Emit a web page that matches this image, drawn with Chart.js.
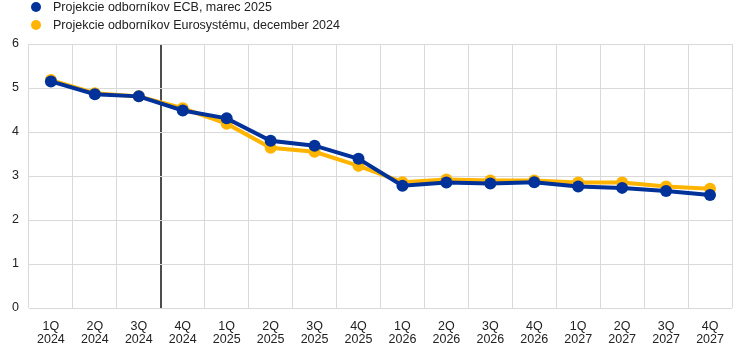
<!DOCTYPE html>
<html>
<head>
<meta charset="utf-8">
<script src="https://cdn.jsdelivr.net/npm/chart.js@4"></script>
<style>
    body { margin: 0; background: #fff; }
    #wrap { position: relative; width: 744px; height: 348px; }
    #legend { position: absolute; left: 31px; top: 0; font: 12.5px "Liberation Sans", Arial, sans-serif; color: #222; }
    #legend div { height: 18px; line-height: 15px; white-space: nowrap; }
    #legend span { display: inline-block; width: 10px; height: 10px; border-radius: 50%; margin-right: 12px; vertical-align: -1px; }
</style>
</head>
<body>
<div id="wrap">
    <canvas id="chart1" width="744" height="348"></canvas>
    <div id="legend"></div>
</div>
<script>
const quarters = ['1Q', '2Q', '3Q', '4Q', '1Q', '2Q', '3Q', '4Q', '1Q', '2Q', '3Q', '4Q', '1Q', '2Q', '3Q', '4Q'];
const years = ['2024', '2024', '2024', '2024', '2025', '2025', '2025', '2025', '2026', '2026', '2026', '2026', '2027', '2027', '2027', '2027'];

const ecbMarch2025 = [5.15, 4.86, 4.81, 4.49, 4.31, 3.80, 3.69, 3.39, 2.78, 2.85, 2.83, 2.86, 2.76, 2.73, 2.66, 2.57];
const eurosystemDec2024 = [5.18, 4.88, 4.81, 4.54, 4.19, 3.64, 3.55, 3.23, 2.86, 2.92, 2.90, 2.90, 2.85, 2.85, 2.76, 2.71];

const seriesNames = ['Projekcie odborníkov ECB, marec 2025', 'Projekcie odborníkov Eurosystému, december 2024'];
const seriesColors = ['#003299', '#ffb400'];

const yTicks = [0, 1, 2, 3, 4, 5, 6];

const labels = quarters.map((q, i) => [q, years[i]]);

document.getElementById('legend').innerHTML = seriesNames.map((name, i) =>
    `<div><span style="background:${seriesColors[i]}"></span>${name}</div>`
).join('');

const ctx1 = document.getElementById('chart1');

new Chart(ctx1, {
    type: 'line',
    data: {
        labels: labels,
        datasets: [{
            label: seriesNames[0],
            data: ecbMarch2025,
            borderColor: seriesColors[0],
            backgroundColor: seriesColors[0],
            borderWidth: 4,
            pointRadius: 6,
            pointBorderWidth: 0,
            tension: 0,
        }, {
            label: seriesNames[1],
            data: eurosystemDec2024,
            borderColor: seriesColors[1],
            backgroundColor: seriesColors[1],
            borderWidth: 4,
            pointRadius: 6,
            pointBorderWidth: 0,
            tension: 0,
        }],
    },
    options: {
        responsive: false,
        animation: false,
        events: [],
        layout: {
            padding: { top: 44, right: 12, left: 2, bottom: 0 },
        },
        plugins: {
            legend: { display: false },
            tooltip: { enabled: false },
        },
        scales: {
            x: {
                offset: true,
                afterFit: (scale) => { scale.height = 40; },
                grid: {
                    offset: true,
                    drawTicks: false,
                    color: (c) => c.index === 3 ? '#4d4d4d' : '#d9d9d9',
                    lineWidth: (c) => c.index === 3 ? 2 : 1,
                },
                border: { display: false },
                ticks: {
                    padding: 12,
                    color: '#222',
                    maxRotation: 0,
                    autoSkip: false,
                    font: { family: '"Liberation Sans", Arial, sans-serif', size: 12.5, lineHeight: 1.06 },
                },
            },
            y: {
                min: 0,
                max: 6,
                afterBuildTicks: (scale) => { scale.ticks = yTicks.map(v => ({ value: v })); },
                grid: { drawTicks: false, color: '#d9d9d9' },
                border: { display: false },
                ticks: {
                    padding: 10,
                    color: '#222',
                    font: { family: '"Liberation Sans", Arial, sans-serif', size: 12.5 },
                },
            },
        },
    },
});
</script>
</body>
</html>
